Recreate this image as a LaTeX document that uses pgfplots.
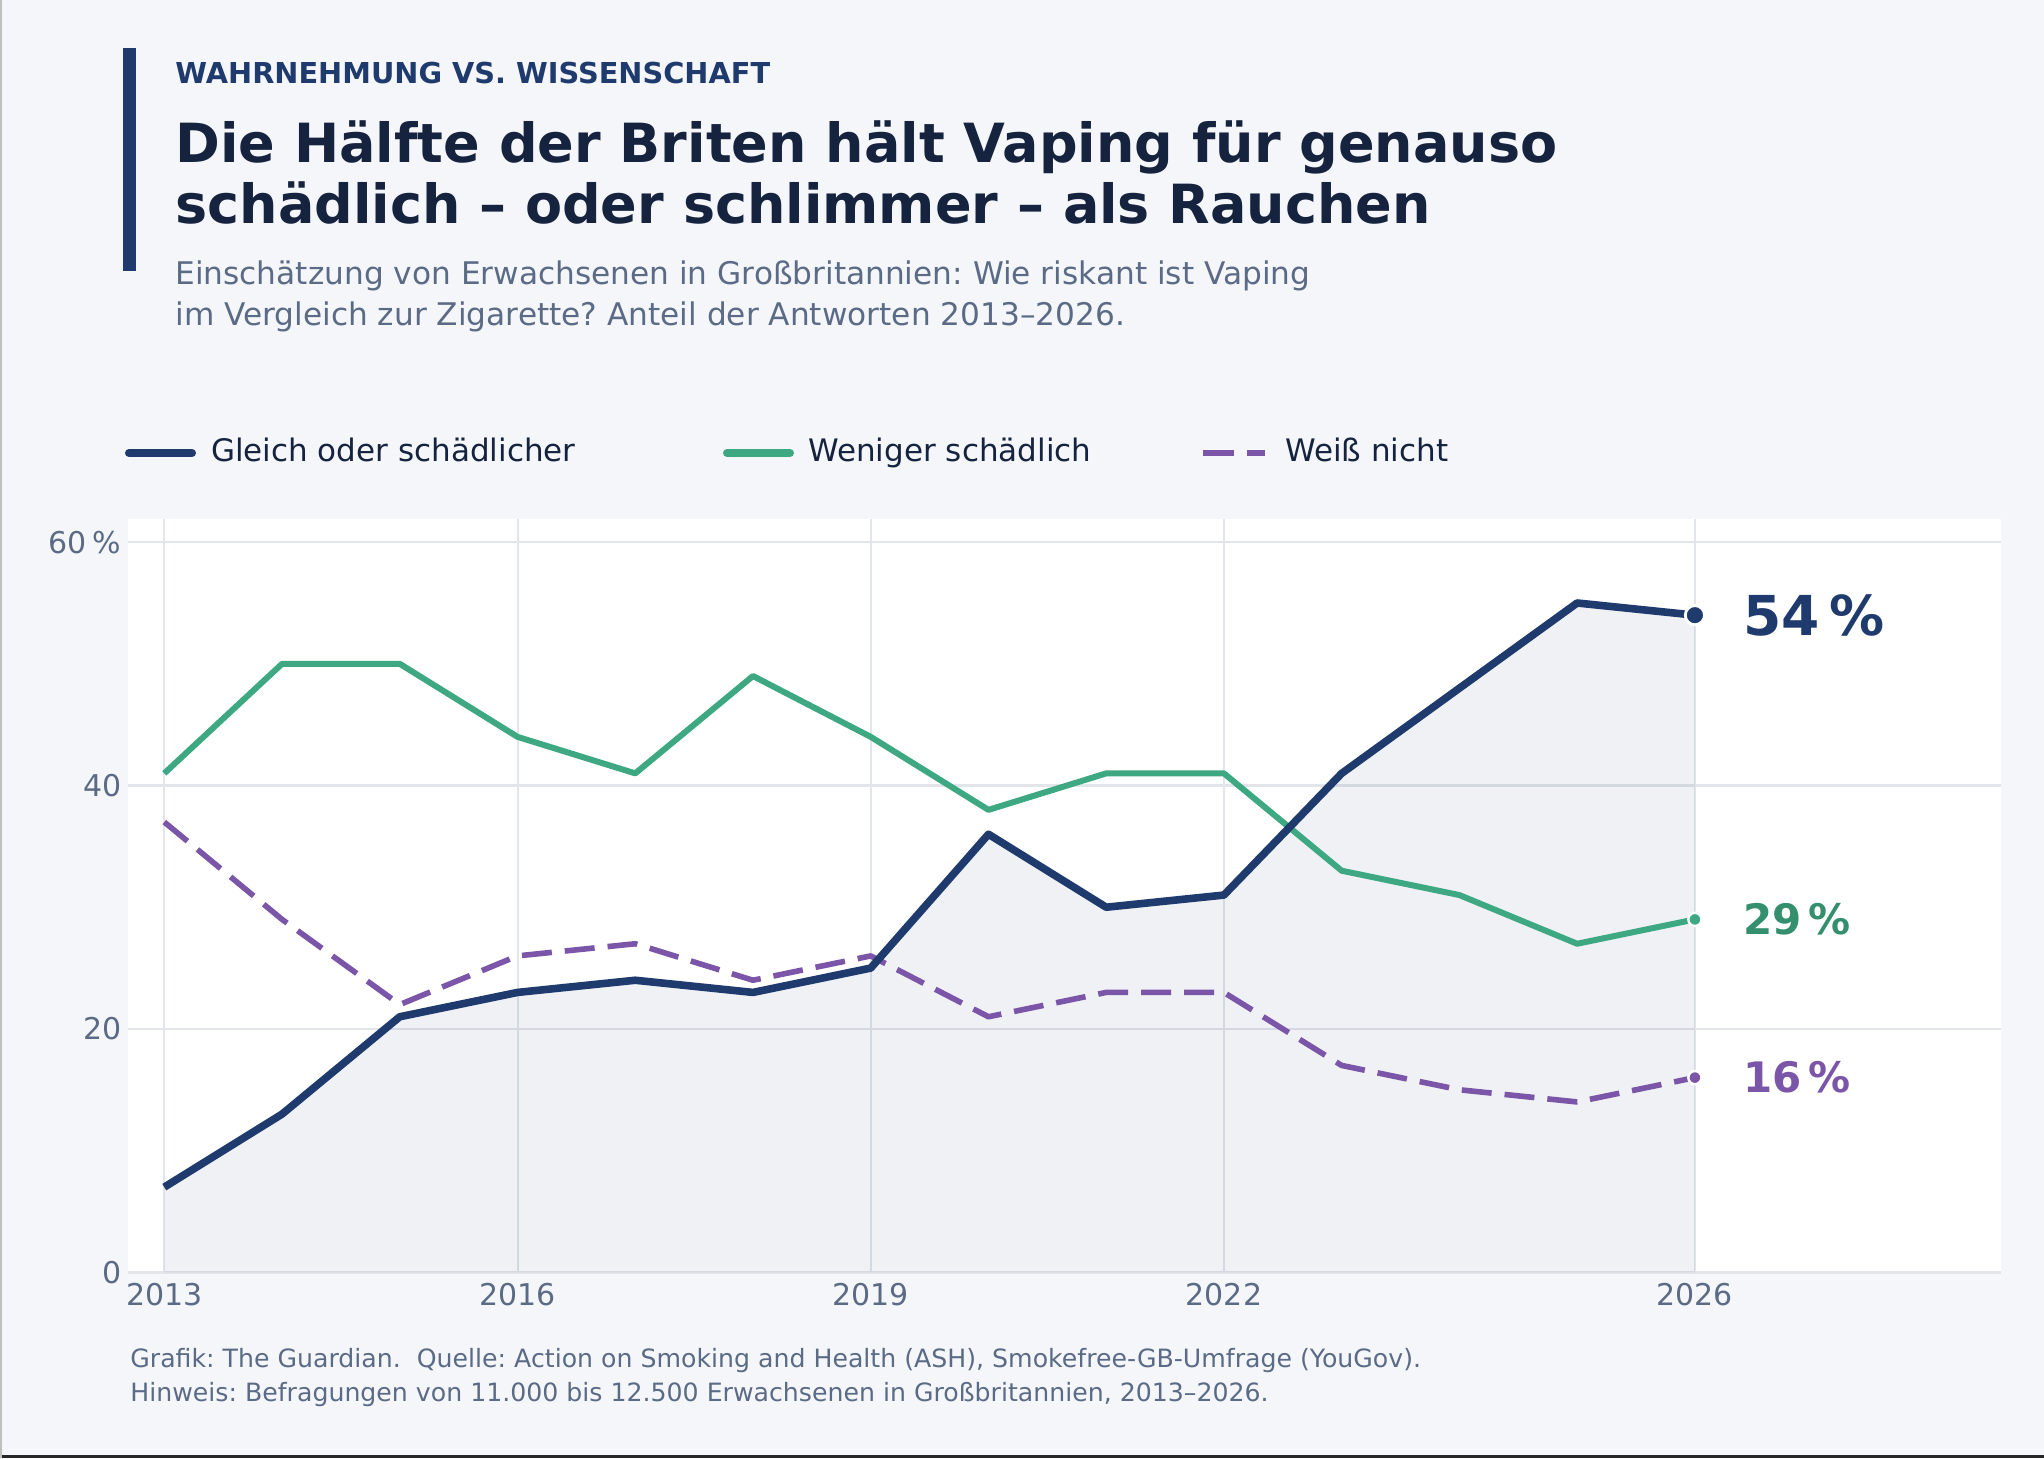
\documentclass[border=0pt]{standalone}
\usepackage{pgfplots}
\pgfplotsset{compat=1.18}
\usepackage{fontspec}
\setmainfont{DejaVu Sans}
\definecolor{bg}{HTML}{F4F6FA}
\definecolor{navy}{HTML}{1F3B6E}
\definecolor{tgreen}{HTML}{3DA882}
\definecolor{tpurple}{HTML}{7B55A8}
\definecolor{titlec}{HTML}{16233F}
\definecolor{subc}{HTML}{5B6B85}
\definecolor{gridc}{HTML}{E2E5EA}
\begin{document}
\frenchspacing
\begin{tikzpicture}
\begin{scope}[x=0.5pt,y=-0.5pt]
\fill[bg] (0,0) rectangle (2044,1458);
\fill[black!85] (0,1455) rectangle (2044,1458);
\fill[black!25] (0,0) rectangle (1.5,1458);
\fill[navy] (122.5,48) rectangle (135.6,271);
\node[anchor=base west, inner sep=0, text=navy, font=\bfseries\fontsize{14.4pt}{17pt}\selectfont] at (175,83.3) {WAHRNEHMUNG VS. WISSENSCHAFT};
\node[anchor=base west, inner sep=0, text=titlec, font=\bfseries\fontsize{27pt}{32pt}\selectfont] at (175,162) {Die Hälfte der Briten hält Vaping für genauso};
\node[anchor=base west, inner sep=0, text=titlec, font=\bfseries\fontsize{27pt}{32pt}\selectfont] at (175,223) {schädlich – oder schlimmer – als Rauchen};
\node[anchor=base west, inner sep=0, text=subc, font=\fontsize{15.6pt}{18pt}\selectfont] at (175,284) {Einschätzung von Erwachsenen in Großbritannien: Wie riskant ist Vaping};
\node[anchor=base west, inner sep=0, text=subc, font=\fontsize{15.6pt}{18pt}\selectfont] at (175,325) {im Vergleich zur Zigarette? Anteil der Antworten 2013–2026.};
% legend
\draw[navy, line width=4pt, line cap=round] (129,453) -- (192,453);
\node[anchor=base west, inner sep=0, text=titlec, font=\fontsize{15.5pt}{18pt}\selectfont] at (210.7,461.7) {Gleich oder schädlicher};
\draw[tgreen, line width=4pt, line cap=round] (727,453) -- (790,453);
\node[anchor=base west, inner sep=0, text=titlec, font=\fontsize{15.5pt}{18pt}\selectfont] at (808,461.7) {Weniger schädlich};
\draw[tpurple, line width=3pt] (1203,453) -- (1234,453);
\draw[tpurple, line width=3pt] (1247,453) -- (1265,453);
\node[anchor=base west, inner sep=0, text=titlec, font=\fontsize{15.5pt}{18pt}\selectfont] at (1285,461.7) {Weiß nicht};
% footer
\node[anchor=base west, inner sep=0, text=subc, font=\fontsize{12.6pt}{15pt}\selectfont] at (130,1367) {Grafik: The Guardian.\ \ Quelle: Action on Smoking and Health (ASH), Smokefree-GB-Umfrage (YouGov).};
\node[anchor=base west, inner sep=0, text=subc, font=\fontsize{12.6pt}{15pt}\selectfont] at (130,1401) {Hinweis: Befragungen von 11.000 bis 12.500 Erwachsenen in Großbritannien, 2013–2026.};
\end{scope}
\begin{axis}[
 at={(63.9pt,-636.15pt)}, anchor=south west,
 width=936.6pt, height=376.65pt, scale only axis,
 xmin=2012.69, xmax=2028.6, ymin=0, ymax=61.9,
 axis background/.style={fill=white},
 axis line style={draw=none},
 xtick={2013,2016,2019,2022,2026}, xticklabels={2013,2016,2019,2022,2026},
 ytick={0,20,40,60}, yticklabels={0,20,40,60\hspace{0.2em}\%},
 major tick length=0pt,
 xmajorgrids, ymajorgrids,
 x grid style={draw=gridc, line width=1pt},
 y grid style={draw=gridc, line width=1.2pt},
 tick label style={font=\fontsize{15pt}{18pt}\selectfont, text=subc},
 xticklabel style={anchor=north, inner sep=0pt, yshift=-5.5pt},
 yticklabel style={anchor=east, inner sep=0pt, xshift=-3pt},
 /pgf/number format/assume math mode=true,
 clip=false,
]
\addplot[draw=none, fill=navy, fill opacity=0.07, forget plot] coordinates {
(2013,7) (2014,13) (2015,21) (2016,23) (2017,24) (2018,23) (2019,25) (2020,36) (2021,30) (2022,31) (2023,41) (2024,48) (2025,55) (2026,54)} \closedcycle;
\addplot[tgreen, line width=3pt, line join=round, mark=*, mark indices={14}, mark size=3.3pt, mark options={fill=tgreen, draw=white, line width=1.2pt}] coordinates {
(2013,41) (2014,50) (2015,50) (2016,44) (2017,41) (2018,49) (2019,44) (2020,38) (2021,41) (2022,41) (2023,33) (2024,31) (2025,27) (2026,29)};
\addplot[tpurple, line width=2.8pt, line join=round, dash pattern=on 15pt off 6.5pt, mark=*, mark indices={14}, mark size=3.3pt, mark options={solid, fill=tpurple, draw=white, line width=1.2pt}] coordinates {
(2013,37) (2014,29) (2015,22) (2016,26) (2017,27) (2018,24) (2019,26) (2020,21) (2021,23) (2022,23) (2023,17) (2024,15) (2025,14) (2026,16)};
\addplot[navy, line width=3.8pt, line join=round, mark=*, mark indices={14}, mark size=4.8pt, mark options={fill=navy, draw=white, line width=1.4pt}] coordinates {
(2013,7) (2014,13) (2015,21) (2016,23) (2017,24) (2018,23) (2019,25) (2020,36) (2021,30) (2022,31) (2023,41) (2024,48) (2025,55) (2026,54)};
\node[anchor=west, inner sep=0, xshift=24pt, text=navy, font=\bfseries\fontsize{27.5pt}{32pt}\selectfont] at (axis cs:2026,54) {54\hspace{0.17em}\%};
\node[anchor=west, inner sep=0, xshift=24pt, text=tgreen!85!black, font=\bfseries\fontsize{21pt}{25pt}\selectfont] at (axis cs:2026,29) {29\hspace{0.17em}\%};
\node[anchor=west, inner sep=0, xshift=24pt, text=tpurple, font=\bfseries\fontsize{21pt}{25pt}\selectfont] at (axis cs:2026,16) {16\hspace{0.17em}\%};
\end{axis}
\pgfresetboundingbox
\path[use as bounding box] (0,0) rectangle (1022pt,-729pt);
\end{tikzpicture}
\end{document}
